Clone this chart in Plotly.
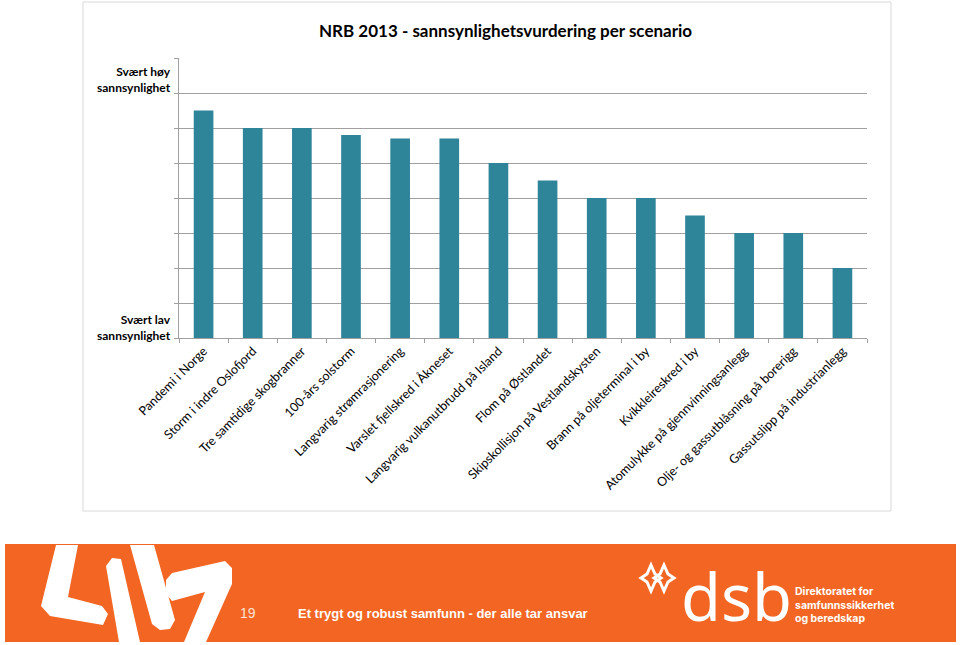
import plotly.graph_objects as go

# Scenario names and estimated probability scores (0 = very low, 8 = very high)
scenarios = [
    "Pandemi i Norge", "Storm i indre Oslofjord", "Tre samtidige skogbranner",
    "100-års solstorm", "Langvarig strømrasjonering", "Varslet fjellskred i Åkneset",
    "Langvarig vulkanutbrudd på Island", "Flom på Østlandet",
    "Skipskollisjon på Vestlandskysten", "Brann på oljeterminal i by",
    "Kvikkleireskred i by", "Atomulykke på gjennvinningsanlegg",
    "Olje- og gassutblåsning på borerigg", "Gassutslipp på industrianlegg",
]
probability = [6.5, 6.0, 6.0, 5.8, 5.7, 5.7, 5.0, 4.5, 4.0, 4.0, 3.5, 3.0, 3.0, 2.0]

y_labels = ["Svært høy<br>sannsynlighet", "Svært lav<br>sannsynlighet"]
y_label_pos = [7.4, 0.3]

title = "NRB 2013 - sannsynlighetsvurdering per scenario"
footer_page = "19"
footer_text = "Et trygt og robust samfunn - der alle tar ansvar"
dsb_sub = "Direktoratet for<br>samfunnssikkerhet<br>og beredskap"

W, H = 960, 645
L, R, T, B = 179, 867, 58, 338   # plot area in pixels
FONT = "Lato"
ORANGE = "#F26522"


def px(x, y):
    # pixel position -> paper coordinates
    return (x - L) / (R - L), (B - y) / (B - T)


def poly(points):
    parts = []
    for i, (x, y) in enumerate(points):
        a, b = px(x, y)
        parts.append(("M" if i == 0 else "L") + f"{a:.5f},{b:.5f}")
    return " ".join(parts) + " Z"


fig = go.Figure(go.Bar(x=scenarios, y=probability, marker_color="#2E8499",
                       marker_line_width=0))

shapes = []
# chart frame
x0, y0 = px(83, 511)
x1, y1 = px(891, 2)
shapes.append(dict(type="rect", xref="paper", yref="paper", x0=x0, y0=y0, x1=x1, y1=y1,
                   line=dict(color="#D9D9D9", width=1), layer="below"))
# footer band
x0, y0 = px(5, 642)
x1, y1 = px(956, 544)
shapes.append(dict(type="rect", xref="paper", yref="paper", x0=x0, y0=y0, x1=x1, y1=y1,
                   fillcolor=ORANGE, line_width=0, layer="below"))

# left decorative logo (rough)
logo = [
    [(56, 545), (78, 545), (68, 597), (102, 606), (108, 614), (103, 625), (50, 616), (41, 606)],
    [(106, 566), (112, 558), (121, 559), (140, 642), (119, 642)],
    [(130, 545), (154, 545), (175, 620), (170, 629), (160, 630), (152, 624)],
    [(166, 580), (172, 573), (225, 561), (232, 568), (232, 584), (206, 642), (184, 642),
     (205, 592), (172, 601), (166, 594)],
]
for p in logo:
    shapes.append(dict(type="path", xref="paper", yref="paper", path=poly(p),
                       fillcolor="white", line_width=0))

# dsb star mark (rough)
for cx in (651, 664):
    cy = 578
    pts = [(cx, cy - 13), (cx + 4, cy - 4), (cx + 10, cy), (cx + 4, cy + 4), (cx, cy + 13),
           (cx - 4, cy + 4), (cx - 10, cy), (cx - 4, cy - 4)]
    shapes.append(dict(type="path", xref="paper", yref="paper", path=poly(pts),
                       fillcolor="rgba(0,0,0,0)", line=dict(color="white", width=3)))

annotations = []
for txt, yv in zip(y_labels, y_label_pos):
    annotations.append(dict(text=txt, x=px(173, 0)[0], xref="paper", y=yv, yref="y",
                            xanchor="right", yanchor="middle", showarrow=False, align="right",
                            font=dict(family=FONT, size=12, color="black", weight="bold")))

ax, ay = px(505, 31)
annotations.append(dict(text=title, x=ax, y=ay, xref="paper", yref="paper", showarrow=False,
                        xanchor="center", yanchor="middle",
                        font=dict(family=FONT, size=17, color="black", weight="bold")))

ax, ay = px(248, 613)
annotations.append(dict(text=footer_page, x=ax, y=ay, xref="paper", yref="paper", showarrow=False,
                        xanchor="center", yanchor="middle",
                        font=dict(family="Liberation Sans", size=14, color="#FCE3D6")))
ax, ay = px(296, 613)
annotations.append(dict(text=footer_text, x=ax, y=ay, xref="paper", yref="paper", showarrow=False,
                        xanchor="left", yanchor="middle",
                        font=dict(family="Liberation Sans", size=13, color="white", weight="bold")))
ax, ay = px(679, 596)
annotations.append(dict(text="dsb", x=ax, y=ay, xref="paper", yref="paper", showarrow=False,
                        xanchor="left", yanchor="middle",
                        font=dict(family="Noto Sans", size=65, color="white")))
ax, ay = px(793, 605)
annotations.append(dict(text=dsb_sub, x=ax, y=ay, xref="paper", yref="paper", showarrow=False,
                        xanchor="left", yanchor="middle", align="left",
                        font=dict(family="Inter", size=10.5, color="white", weight="bold")))

fig.update_layout(
    width=W, height=H,
    margin=dict(l=L, r=W - R, t=T, b=H - B, pad=0),
    paper_bgcolor="white", plot_bgcolor="white",
    bargap=0.6, showlegend=False,
    font=dict(family=FONT, size=11, color="black"),
    shapes=shapes, annotations=annotations,
)
fig.update_xaxes(tickangle=-45, tickson="boundaries", ticks="outside", ticklen=4,
                 tickcolor="#A0A0A0", showline=True, linecolor="#A0A0A0", linewidth=1,
                 tickfont=dict(family=FONT, size=12.5, color="black"))
fig.update_yaxes(range=[0, 8], dtick=1, showticklabels=False, ticks="outside", ticklen=4,
                 tickcolor="#A0A0A0", showgrid=True, gridcolor="#A0A0A0", gridwidth=1,
                 showline=True, linecolor="#A0A0A0", linewidth=1, zeroline=False)

# drop the default page margin so the figure sits at the window's corner
fig.write_html("out.html", config={"displayModeBar": False},
               post_script="document.body.style.margin='0';")
